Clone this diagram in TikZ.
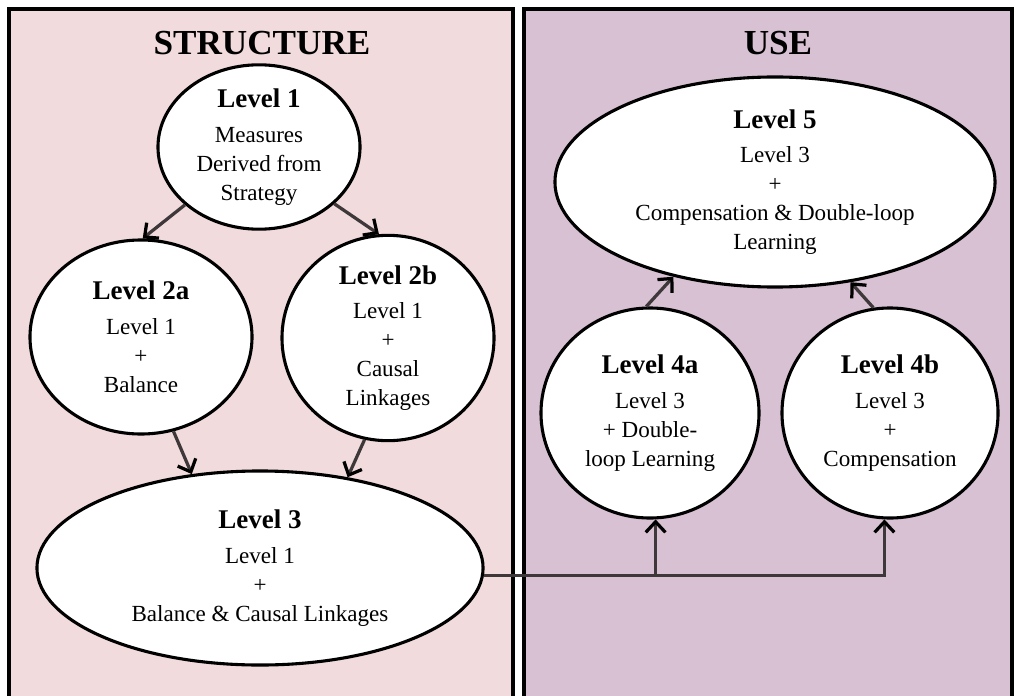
\documentclass[tikz,border=0pt]{standalone}
\usepackage{fontspec}
\setmainfont{Liberation Serif}
\usetikzlibrary{shapes.geometric,arrows.meta}
\definecolor{structpink}{RGB}{241,219,220}
\definecolor{usepurple}{RGB}{215,193,211}
\definecolor{linkgray}{RGB}{62,56,58}

\begin{document}
\begin{tikzpicture}[x=0.025cm, y=-0.025cm,
    lvlnode/.style={ellipse, draw=black, line width=2.2pt, fill=white, inner sep=0pt,
      align=center, font=\fontsize{16.4}{20.6}\selectfont},
    flow/.style={draw=linkgray, line width=2.3pt,
      -{Straight Barb[length=7.5pt,width=14pt,color=black]}},
    paneltitle/.style={font=\fontsize{25}{30}\selectfont\bfseries}]
  \clip (0,0) rectangle (1016,695);

  % Panels
  \draw[fill=structpink, line width=2.8pt] (9,9) rectangle (513,720);
  \draw[fill=usepurple, line width=2.8pt] (524,9) rectangle (1012,720);
  \node[paneltitle] (structure) at (262,43) {STRUCTURE};
  \node[paneltitle] (use) at (778,43) {USE};

  % Levels
  \def\hd#1{\textbf{\fontsize{19.2}{23}\selectfont #1}\\[4pt]}
  \node[lvlnode, minimum width=5.05cm, minimum height=4.1cm] (l1) at (259,147)
    {\hd{Level 1} Measures\\ Derived from\\ Strategy};
  \node[lvlnode, minimum width=5.55cm, minimum height=4.85cm] (l2a) at (141,337)
    {\hd{Level 2a} Level 1\\ +\\ Balance};
  \node[lvlnode, minimum width=5.3cm, minimum height=5cm] (l2b) at (388,338)
    {\hd{Level 2b} Level 1\\ +\\ Causal\\ Linkages};
  \node[lvlnode, minimum width=11.15cm, minimum height=4.85cm] (l3) at (260,568)
    {\hd{Level 3} Level 1\\ +\\ Balance \& Causal Linkages};
  \node[lvlnode, minimum width=11cm, minimum height=5.25cm] (l5) at (775,182)
    {\hd{Level 5} Level 3\\ +\\ Compensation \& Double-loop\\ Learning};
  \node[lvlnode, minimum width=5.45cm, minimum height=5.25cm] (l4a) at (650,413)
    {\hd{Level 4a} Level 3\\ + Double-\\ loop Learning};
  \node[lvlnode, minimum width=5.4cm, minimum height=5.25cm] (l4b) at (890,413)
    {\hd{Level 4b} Level 3\\ +\\ Compensation};

  % Arrows
  \draw[flow] (l1.218) -- (l2a.89);
  \draw[flow] (l1.323) -- (l2b.95);
  \draw[flow] (l2a.289) -- (l3.126);
  \draw[flow] (l2b.257) -- (l3.46);
  \draw[flow] (l4a.92) -- (l5.223);
  \draw[flow] (l4b.99) -- (l5.307);
  \coordinate (bus) at (l3.-2);
  \draw[flow] (bus) -| (l4b.-93);
  \draw[flow] (bus -| l4a.-87) -- (l4a.-87);
\end{tikzpicture}
\end{document}
